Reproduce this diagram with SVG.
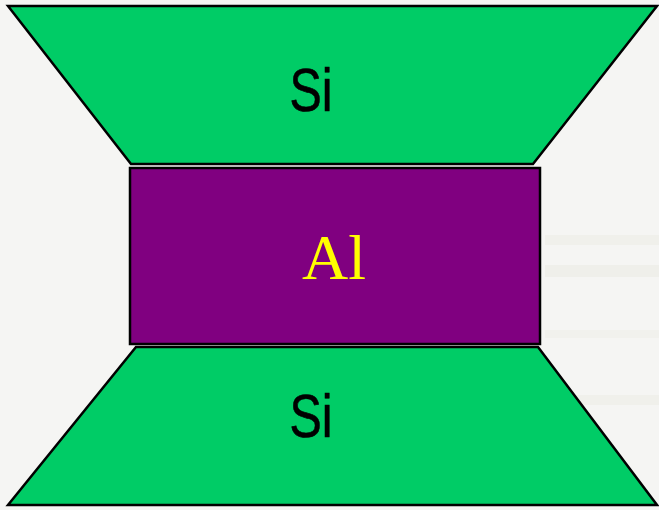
<svg xmlns="http://www.w3.org/2000/svg" width="659" height="510" viewBox="0 0 659 510">
<style>
.si{fill:#00cc66;stroke:#000;stroke-width:2.5}
.al{fill:#800080;stroke:#000;stroke-width:2.5}
.lbl{font-family:"Liberation Sans",Arial,sans-serif;font-size:62px;fill:#000;stroke:#000;stroke-width:0.6;text-anchor:middle}
.al-t{font-family:"Liberation Serif","Times New Roman",serif;font-size:64px;fill:#ffff00;text-anchor:middle}
</style>
<rect width="659" height="510" fill="#f5f5f3"/>
<g opacity="0.3">
<rect x="545" y="235" width="114" height="10" fill="#e6e6dc"/>
<rect x="545" y="265" width="114" height="12" fill="#e2e2d8"/>
<rect x="545" y="330" width="114" height="8" fill="#e8e8e0"/>
<rect x="545" y="395" width="114" height="10" fill="#e6e6dc"/>
</g>
<g id="si-top">
<polygon class="si" points="8,6 657,6 533,164 131,164"/>
<text class="lbl" x="311" y="111" textLength="43" lengthAdjust="spacingAndGlyphs">Si</text>
</g>
<g id="al">
<rect class="al" x="130" y="168" width="410" height="176"/>
<text class="al-t" x="334" y="279">Al</text>
</g>
<g id="si-bottom">
<polygon class="si" points="136,347 538,347 657,505 8,505"/>
<text class="lbl" x="311" y="437" textLength="43" lengthAdjust="spacingAndGlyphs">Si</text>
</g>
<g id="connectors"/>
</svg>
